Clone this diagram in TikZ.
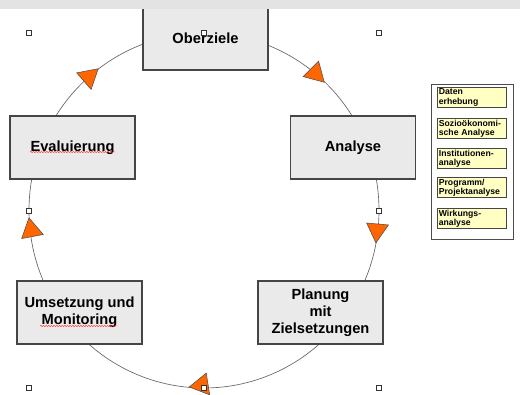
\documentclass[tikz,border=0pt]{standalone}
\usepackage{fontspec}
\setmainfont{Liberation Sans}
\usetikzlibrary{shapes.geometric,decorations.pathmorphing}
\definecolor{boxgray}{HTML}{EAEAEA}
\definecolor{boxline}{HTML}{454545}
\definecolor{tiporange}{HTML}{FF6600}
\definecolor{noteyellow}{HTML}{FFFFC4}
\definecolor{bandgray}{HTML}{E3E3E3}
\tikzstyle{phase}=[draw=boxline, fill=boxgray, line width=0.8pt,
                   minimum width=93.75pt, minimum height=47.25pt,
                   align=center, inner sep=0pt,
                   font=\fontsize{11}{12.75}\selectfont\bfseries]
\tikzstyle{cycle-tip}=[draw=black!70, fill=tiporange, regular polygon,
                       regular polygon sides=3, minimum size=19pt,
                       inner sep=0pt, line width=0.4pt]
\tikzstyle{handle}=[draw=black!80, fill=white, minimum size=3.75pt,
                    inner sep=0pt, line width=0.4pt]
\tikzstyle{task}=[draw=boxline, fill=noteyellow, line width=0.7pt,
                  minimum width=51.75pt, minimum height=12.75pt,
                  text width=49pt, inner xsep=1.3pt, inner ysep=1.2pt, align=left,
                  font=\fontsize{6.5}{7.1}\selectfont\bfseries]
\tikzstyle{spell}=[red!80, line width=0.3pt, decorate,
                   decoration={snake, amplitude=0.5pt, segment length=2pt}]

\begin{document}
\begin{tikzpicture}[x=0.75pt,y=0.75pt]
\useasboundingbox (0,0) rectangle (520,395);
% cycle
\draw[black!60, line width=0.5pt] (204,184.5) ellipse [x radius=175, y radius=177.5];
\node[phase] (ober) at (205.5,356.5) {Oberziele};
\node[phase] (analyse) at (353,247.5) {Analyse};
\node[phase] (planung) at (320.5,82.5) {Planung\\mit\\Zielsetzungen};
\node[phase] (umsetzung) at (79.5,82.5) {Umsetzung und\\Monitoring};
\node[phase] (eval) at (72.5,247.5) {Evaluierung};
\draw[spell] (30,243) -- (115,243);
\draw[spell] (40,69) -- (117,69);
% arrow tips
\node[cycle-tip, rotate=-49] (t1) at (88.7,318) {};
\node[cycle-tip, rotate=-135] (t2) at (315.3,321.7) {};
\node[cycle-tip, rotate=175] (t3) at (377,164.7) {};
\node[cycle-tip, rotate=99] (t4) at (201.7,10) {};
\node[cycle-tip, rotate=10.7] (t5) at (31.3,164.7) {};
% selection handles
\node[handle] (h1) at (29,362) {};
\node[handle] (h2) at (204,362) {};
\node[handle] (h3) at (379,362) {};
\node[handle] (h4) at (29,184) {};
\node[handle] (h5) at (379,184) {};
\node[handle] (h6) at (29,7) {};
\node[handle] (h7) at (204,7) {};
\node[handle] (h8) at (379,7) {};
% window band
\fill[bandgray] (0,386) rectangle (520,395);
% analysis panel
\node[draw=black!70, fill=white, line width=0.6pt, minimum width=61.5pt,
      minimum height=116.25pt, inner sep=0pt] (panel) at (472,233.5) {};
\node[task] (daten) at (471.5,297.5) {Daten\\erhebung};
\node[task] (sozio) at (471.5,266.5) {Sozioökonomi-\\sche Analyse};
\node[task] (inst) at (471.5,236.5) {Institutionen-\\analyse};
\node[task] (prog) at (471.5,207.5) {Programm/\\Projektanalyse};
\node[task] (wirk) at (471.5,176.5) {Wirkungs-\\analyse};
\end{tikzpicture}
\end{document}
